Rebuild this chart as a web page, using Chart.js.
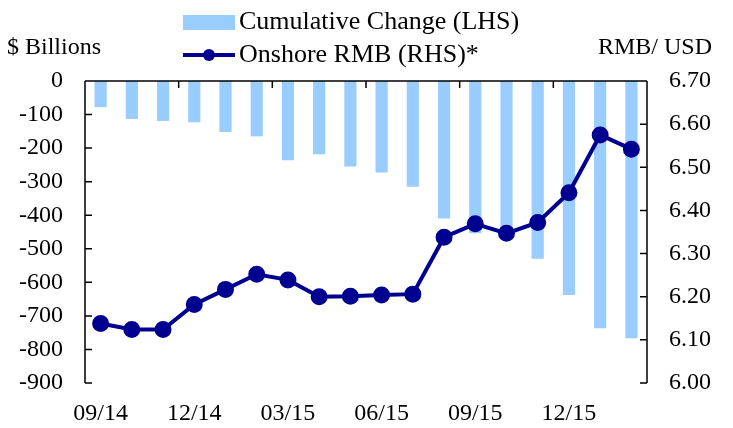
<!DOCTYPE html>
<html>
<head>
<meta charset="utf-8">
<script src="https://cdn.jsdelivr.net/npm/chart.js@4"></script>
<style>
    body { margin: 0; background: #fff; }
    #wrap { width: 733px; height: 428px; }
</style>
</head>
<body>
<div id="wrap"><canvas id="flowChart"></canvas></div>
<script>
// Month labels (only every third one is printed on the axis)
const months = ['09/14', '10/14', '11/14', '12/14', '01/15', '02/15', '03/15', '04/15', '05/15',
    '06/15', '07/15', '08/15', '09/15', '10/15', '11/15', '12/15', '01/16', '02/16'];

// Cumulative change, $ billions (LHS)
const cumulativeChange = [-78, -113, -119, -123, -152, -165, -236, -218, -255, -273,
    -315, -410, -454, -458, -530, -638, -737, -767];

// Onshore RMB per USD (RHS)
const onshoreRmb = [6.138, 6.124, 6.124, 6.182, 6.217, 6.252, 6.239, 6.200, 6.201, 6.204,
    6.206, 6.338, 6.369, 6.347, 6.372, 6.441, 6.575, 6.542];

const leftTicks = [0, -100, -200, -300, -400, -500, -600, -700, -800, -900];
const rightTicks = [6.0, 6.1, 6.2, 6.3, 6.4, 6.5, 6.6, 6.7];

const barColor = '#99ccff';
const lineColor = '#000090';
const serif = '"Liberation Serif", "Times New Roman", serif';

// Draws the legend, axis titles, top axis line and the inward tick marks
const decorations = {
    id: 'decorations',
    afterDraw(chart) {
        const ctx = chart.ctx;
        const area = chart.chartArea;
        const x = chart.scales.x;
        const yL = chart.scales.y;
        const yR = chart.scales.y1;
        ctx.save();

        // axis lines
        ctx.strokeStyle = '#000';
        ctx.lineWidth = 1.5;
        ctx.beginPath();
        ctx.moveTo(area.left, yL.getPixelForValue(0));
        ctx.lineTo(area.right, yL.getPixelForValue(0));
        ctx.moveTo(area.left, area.top);
        ctx.lineTo(area.left, area.bottom);
        ctx.moveTo(area.right, area.top);
        ctx.lineTo(area.right, area.bottom);

        // tick marks pointing into the plot
        leftTicks.forEach(v => {
            const py = yL.getPixelForValue(v);
            ctx.moveTo(area.left, py);
            ctx.lineTo(area.left + 7, py);
        });
        rightTicks.forEach(v => {
            const py = yR.getPixelForValue(v);
            ctx.moveTo(area.right, py);
            ctx.lineTo(area.right - 7, py);
        });
        for (let i = 3; i < months.length; i += 3) {
            const px = (x.getPixelForValue(i - 1) + x.getPixelForValue(i)) / 2;
            ctx.moveTo(px, area.top);
            ctx.lineTo(px, area.top + 7);
        }
        ctx.stroke();

        // axis titles
        ctx.fillStyle = '#000';
        ctx.textBaseline = 'middle';
        ctx.font = '24px ' + serif;
        ctx.textAlign = 'left';
        ctx.fillText('$ Billions', 7, 48);
        ctx.textAlign = 'right';
        ctx.fillText('RMB/ USD', 712, 48);

        // legend
        const barSet = chart.data.datasets.find(d => d.yAxisID === 'y');
        const lineSet = chart.data.datasets.find(d => d.yAxisID === 'y1');
        ctx.font = '26px ' + serif;
        ctx.textAlign = 'left';
        ctx.fillStyle = barColor;
        ctx.fillRect(183, 15, 52, 15);
        ctx.fillStyle = '#000';
        ctx.fillText(barSet.label, 239, 22);

        ctx.strokeStyle = lineColor;
        ctx.lineWidth = 4;
        ctx.beginPath();
        ctx.moveTo(183, 55);
        ctx.lineTo(235, 55);
        ctx.stroke();
        ctx.fillStyle = lineColor;
        ctx.beginPath();
        ctx.arc(209, 55, 6, 0, Math.PI * 2);
        ctx.fill();
        ctx.fillStyle = '#000';
        ctx.fillText(lineSet.label, 239, 55);

        ctx.restore();
    }
};

new Chart(document.getElementById('flowChart'), {
    type: 'bar',
    data: {
        labels: months,
        datasets: [
            {
                type: 'line',
                label: 'Onshore RMB (RHS)*',
                data: onshoreRmb,
                yAxisID: 'y1',
                borderColor: lineColor,
                backgroundColor: lineColor,
                borderWidth: 4,
                pointRadius: 6.5,
                pointHoverRadius: 6.5,
                tension: 0,
                order: 0
            },
            {
                label: 'Cumulative Change (LHS)',
                data: cumulativeChange,
                yAxisID: 'y',
                backgroundColor: barColor,
                barPercentage: 0.39,
                categoryPercentage: 1,
                order: 1
            }
        ]
    },
    options: {
        responsive: true,
        maintainAspectRatio: false,
        animation: false,
        layout: { padding: { top: 81, left: 0, right: 0, bottom: 0 } },
        plugins: {
            legend: { display: false },
            tooltip: { enabled: false }
        },
        scales: {
            x: {
                grid: { display: false },
                border: { display: false },
                afterFit(scale) { scale.height = 45; },
                ticks: {
                    autoSkip: false,
                    maxRotation: 0,
                    padding: 8,
                    color: '#000',
                    font: { family: serif, size: 24 },
                    callback: (val, i) => (i % 3 === 0 ? months[i] : '')
                }
            },
            y: {
                position: 'left',
                min: -900,
                max: 0,
                grid: { display: false, drawTicks: false },
                border: { display: false },
                afterFit(scale) { scale.width = 85; },
                ticks: {
                    stepSize: 100,
                    padding: 22,
                    color: '#000',
                    font: { family: serif, size: 24 }
                }
            },
            y1: {
                position: 'right',
                min: 6.0,
                max: 6.7,
                grid: { display: false, drawTicks: false },
                border: { display: false },
                afterFit(scale) { scale.width = 86; },
                ticks: {
                    stepSize: 0.1,
                    padding: 22,
                    color: '#000',
                    font: { family: serif, size: 24 },
                    callback: v => v.toFixed(2)
                }
            }
        }
    },
    plugins: [decorations]
});
</script>
</body>
</html>
